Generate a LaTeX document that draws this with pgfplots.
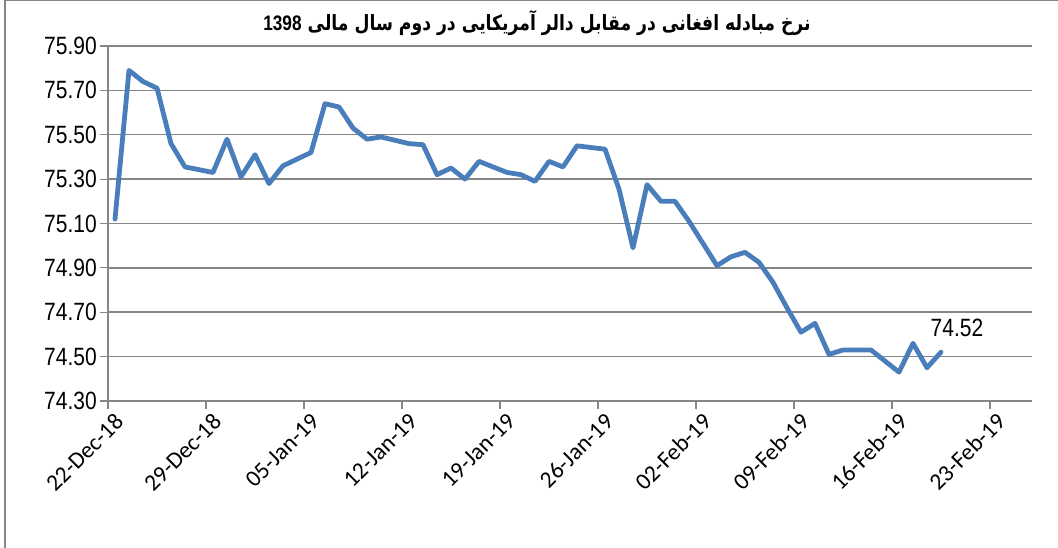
\documentclass[border=0pt]{standalone}
\usepackage{pgfplots}
\pgfplotsset{compat=1.18}
\usepackage{fontspec}
\setmainfont{Liberation Sans}
\newfontfamily\narrowfont{Liberation Sans}[FakeStretch=0.84]
\newfontfamily\xfont{Carlito}
\newfontfamily\arabicfont[Script=Arabic]{DejaVu Sans}
\TeXXeTstate=1
\definecolor{linec}{HTML}{4A7EBB}
\definecolor{gridc}{HTML}{868686}
\begin{document}
\begin{tikzpicture}[x=1pt,y=1pt]
\begin{axis}[
  at={(108pt,147pt)}, anchor=south west,
  scale only axis, width=924pt, height=355pt,
  xmin=0, xmax=66, ymin=74.3, ymax=75.9,
  xtick={0,7,14,21,28,35,42,49,56,63},
  xticklabels={22-Dec-18,29-Dec-18,05-Jan-19,12-Jan-19,19-Jan-19,26-Jan-19,02-Feb-19,09-Feb-19,16-Feb-19,23-Feb-19},
  ytick={74.3,74.5,74.7,74.9,75.1,75.3,75.5,75.7,75.9},
  yticklabels={74.30,74.50,74.70,74.90,75.10,75.30,75.50,75.70,75.90},
  axis x line*=bottom, axis y line*=left,
  ymajorgrids, grid style={gridc, line width=1.5pt},
  axis line style={gridc, line width=1.5pt},
  tick style={gridc, line width=1.2pt},
  tick align=outside, major tick length=8pt,
  xticklabel style={font=\xfont\fontsize{23.5}{23.5}\selectfont, rotate=45, anchor=east, inner sep=1pt, xshift=3pt, yshift=-14pt},
  yticklabel style={font=\narrowfont\fontsize{25}{25}\selectfont, inner sep=3pt},
  clip=false,
]
\addplot[linec, line width=4.8pt, line join=round, line cap=round] coordinates {
(0.5,75.12) (1.5,75.79) (2.5,75.74) (3.5,75.71) (4.5,75.46) (5.5,75.355)
(7.5,75.33) (8.5,75.48) (9.5,75.31) (10.5,75.41) (11.5,75.28) (12.5,75.36)
(14.5,75.42) (15.5,75.64) (16.5,75.625) (17.5,75.53) (18.5,75.48) (19.5,75.49)
(21.5,75.46) (22.5,75.455) (23.5,75.32) (24.5,75.35) (25.5,75.30) (26.5,75.38)
(28.5,75.33) (29.5,75.32) (30.5,75.29) (31.5,75.38) (32.5,75.355) (33.5,75.45)
(35.5,75.435) (36.5,75.255) (37.5,74.99) (38.5,75.275) (39.5,75.20) (40.5,75.20)
(41.5,75.11) (42.5,75.01) (43.5,74.91) (44.5,74.95) (45.5,74.97) (46.5,74.925)
(47.5,74.835) (48.5,74.72) (49.5,74.61) (50.5,74.65) (51.5,74.51) (52.5,74.53)
(54.5,74.53) (55.5,74.48) (56.5,74.43) (57.5,74.56) (58.5,74.45) (59.5,74.52)
};
\addplot[draw=none, nodes near coords={74.52},
  nodes near coords style={anchor=south, xshift=16pt, yshift=12pt, font=\narrowfont\fontsize{25}{25}\selectfont, text=black}]
  coordinates {(59.5,74.52)};
\end{axis}
\node at (537pt,525pt) {\scalebox{0.82}[1]{\arabicfont\bfseries\fontsize{21}{21}\selectfont
  \beginR نرخ مبادله افغانی در مقابل دالر آمریکایی در دوم سال مالی \beginL{\rmfamily 1398}\endL\endR}};
\pgfresetboundingbox
\useasboundingbox (0,0) rectangle (1058pt,548pt);
\draw[gridc, line width=1.2pt] (5pt,0) -- (5pt,547.4pt) -- (1058pt,547.4pt);
\end{tikzpicture}
\end{document}
